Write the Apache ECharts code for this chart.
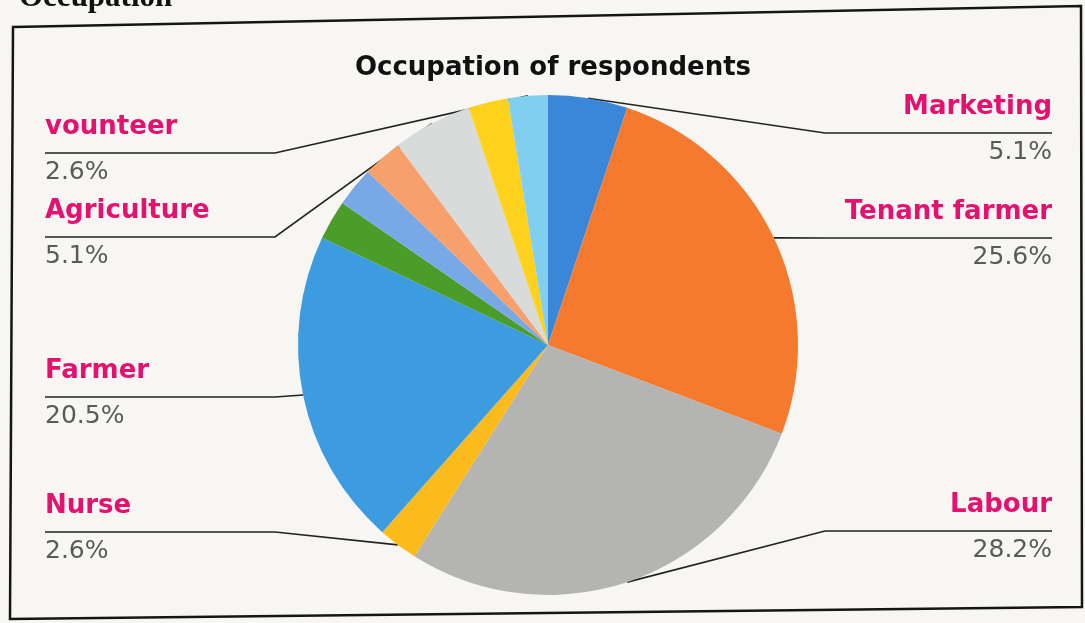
<!DOCTYPE html>
<html>
<head>
<meta charset="utf-8">
<script src="https://cdn.jsdelivr.net/npm/echarts@6/dist/echarts.min.js"></script>
<style>
  html, body { margin: 0; padding: 0; background: #f7f6f3; }
  #chart { width: 1085px; height: 623px; }
</style>
</head>
<body>
<div id="chart"></div>
<script>
// respondents per occupation (n = 39), clockwise from 12 o'clock
const occupations = ['Marketing', 'Tenant farmer', 'Labour', 'Nurse', 'Farmer',
  'Other 1', 'Other 2', 'Other 3', 'Agriculture', 'Other 4', 'vounteer'];
const respondents = [2, 10, 11, 1, 8, 1, 1, 1, 2, 1, 1];
const labelled = [true, true, true, true, true, false, false, false, true, false, true];

const sliceColors = ['#3a86d8', '#f57a2e', '#b4b4b2', '#fbbb1c', '#3d9ce0',
  '#4b9d2a', '#78a9e6', '#f8a06c', '#d7dbd9', '#fdd11c', '#80cff0'];

// y of each leader line, as the labels sit in the original
const labelRows = {
  'Marketing': 133, 'Tenant farmer': 238, 'Labour': 531,
  'Nurse': 532, 'Farmer': 397, 'Agriculture': 237, 'vounteer': 153
};

const cx = 548, cy = 345, R = 250;
const leftEdge = 45, rightEdge = 1052;
const total = respondents.reduce(function (a, b) { return a + b; }, 0);

const chart = echarts.init(document.getElementById('chart'));

const pieData = occupations.map(function (name, i) {
  const item = { name: name, value: respondents[i], itemStyle: { color: sliceColors[i] } };
  if (!labelled[i]) {
    item.label = { show: false };
    item.labelLine = { show: false };
  }
  return item;
});

chart.setOption({
  backgroundColor: '#f7f6f3',
  title: {
    text: 'Occupation of respondents',
    left: cx,
    textAlign: 'center',
    top: 50,
    textStyle: { fontFamily: 'DejaVu Sans', fontWeight: 'bold', fontSize: 26, color: '#111' }
  },
  graphic: [
    {
      type: 'text', left: 19, top: -18,
      style: { text: 'Occupation', fontFamily: 'Liberation Serif', fontWeight: 'bold', fontSize: 31, fill: '#111' }
    },
    {
      type: 'polygon', silent: true,
      shape: { points: [[13, 27], [1081, 6], [1082, 607], [10, 619]] },
      style: { fill: null, stroke: '#151515', lineWidth: 2.5 }
    }
  ],
  series: [{
    type: 'pie',
    center: [cx, cy],
    radius: R,
    startAngle: 90,
    clockwise: true,
    data: pieData,
    label: {
      alignTo: 'edge',
      edgeDistance: 40,
      formatter: function (p) {
        return '{name|' + p.name + '}\n{pct|' + (p.value / total * 100).toFixed(1) + '%}';
      },
      rich: {
        name: { fontFamily: 'DejaVu Sans', fontWeight: 'bold', fontSize: 26, color: '#e3126f', lineHeight: 38 },
        pct: { fontFamily: 'DejaVu Sans', fontSize: 25, color: '#5a5a5a', lineHeight: 52 }
      }
    },
    labelLine: {
      show: true,
      length: 15,
      length2: 10,
      lineStyle: { color: '#222', width: 1.7 }
    },
    labelLayout: function (params) {
      const rowY = labelRows[occupations[params.dataIndex]];
      const pts = params.labelLinePoints;
      if (rowY == null || !pts) return {};
      const isLeft = params.labelRect.x < cx;
      const elbowX = isLeft ? Math.min(pts[0][0], cx - R - 23) : Math.max(pts[0][0], cx + R + 27);
      const endX = isLeft ? leftEdge : rightEdge;
      return {
        x: endX,
        y: rowY,
        labelLinePoints: [pts[0], [elbowX, rowY], [endX, rowY]]
      };
    }
  }]
});
</script>
</body>
</html>
